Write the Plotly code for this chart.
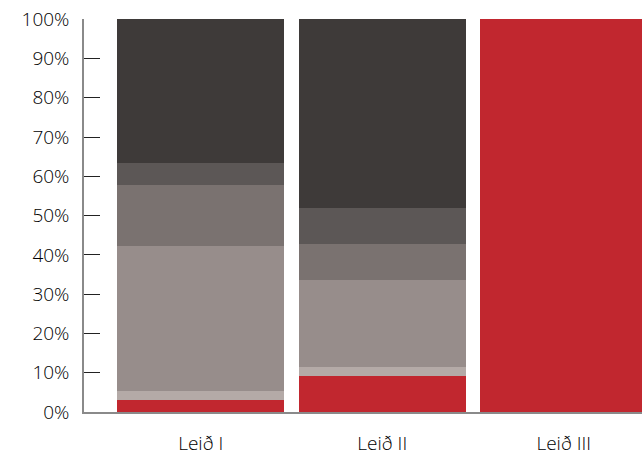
import plotly.graph_objects as go

categories = ["Leið I", "Leið II", "Leið III"]

# stacked shares (%), bottom to top
s_red = [3.0, 9.2, 100.0]
s_light = [2.3, 2.3, 0.0]
s_mid_light = [36.9, 22.1, 0.0]
s_mid = [15.6, 9.1, 0.0]
s_mid_dark = [5.6, 9.2, 0.0]
s_dark = [36.6, 48.1, 0.0]

series = [
    ("A", s_red, "#c1272f"),
    ("B", s_light, "#b4aaa7"),
    ("C", s_mid_light, "#978d8b"),
    ("D", s_mid, "#7a7270"),
    ("E", s_mid_dark, "#5c5756"),
    ("F", s_dark, "#3e3a39"),
]

fig = go.Figure()
for name, vals, col in series:
    fig.add_trace(go.Bar(x=categories, y=vals, name=name, marker=dict(color=col, line=dict(width=0)),
                         showlegend=False, hoverinfo="skip"))

font = dict(family="Open Sans, sans-serif", size=19, color="#000000", weight=300)
fig.update_layout(
    barmode="stack",
    bargap=0.08,
    width=642, height=458,
    margin=dict(l=84, r=0, t=19, b=46),
    paper_bgcolor="white", plot_bgcolor="white",
    font=font,
)
fig.update_xaxes(
    type="category", range=[-0.643, 2.431], automargin=False,
    showline=True, linecolor="#8a8a8a", linewidth=1.5,
    showgrid=False, ticks="", ticklabelstandoff=13, tickfont=font,
)
fig.update_yaxes(
    range=[0, 100.05], tickmode="linear", tick0=0, dtick=10, ticksuffix="%", automargin=False,
    showline=True, linecolor="#8a8a8a", linewidth=1.5,
    showgrid=False, zeroline=False, ticklabeloverflow="allow",
    ticks="inside", ticklen=16, tickcolor="#222222", tickwidth=1,
    ticklabelstandoff=9, tickfont=font,
)
fig.write_html("out.html", config={"displayModeBar": False},
               post_script="document.body.style.margin='0';document.body.style.overflow='hidden';")
